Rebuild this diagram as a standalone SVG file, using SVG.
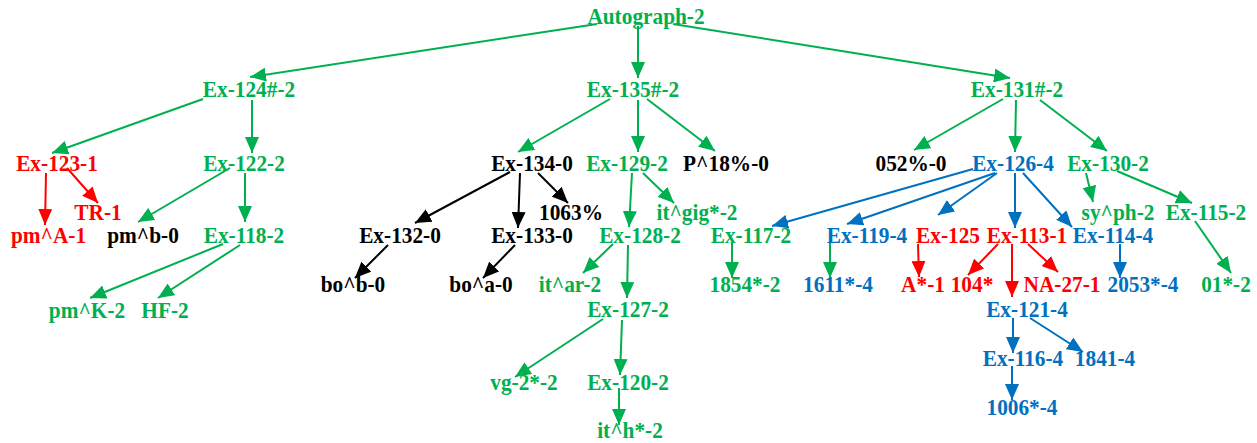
<svg xmlns="http://www.w3.org/2000/svg" width="1257" height="443" viewBox="0 0 1257 443" font-family="'Liberation Serif', 'Times New Roman', serif">
<style>
text{font-family:"Liberation Serif","Times New Roman",serif;font-weight:700;font-size:21.33px;text-anchor:middle}
.g{fill:#00B050}.r{fill:#FF0000}.b{fill:#0070C0}.k{fill:#000000}
line{stroke-width:2;fill:none}
.eg{stroke:#00B050;marker-end:url(#ag)}.er{stroke:#FF0000;marker-end:url(#ar)}.eb{stroke:#0070C0;marker-end:url(#ab)}.ek{stroke:#000000;marker-end:url(#ak)}
</style>
<defs>
<marker id="ag" markerUnits="userSpaceOnUse" markerWidth="16" markerHeight="14" refX="16" refY="7" orient="auto"><path d="M0,0L16,7L0,14z" fill="#00B050"/></marker>
<marker id="ar" markerUnits="userSpaceOnUse" markerWidth="16" markerHeight="14" refX="16" refY="7" orient="auto"><path d="M0,0L16,7L0,14z" fill="#FF0000"/></marker>
<marker id="ab" markerUnits="userSpaceOnUse" markerWidth="16" markerHeight="14" refX="16" refY="7" orient="auto"><path d="M0,0L16,7L0,14z" fill="#0070C0"/></marker>
<marker id="ak" markerUnits="userSpaceOnUse" markerWidth="16" markerHeight="14" refX="16" refY="7" orient="auto"><path d="M0,0L16,7L0,14z" fill="#000000"/></marker>
</defs>
<rect width="1257" height="443" fill="#FFFFFF"/>
<g id="connectors">
<line class="eg" x1="597" y1="24" x2="250" y2="77"/>
<line class="eg" x1="638" y1="26" x2="638" y2="78"/>
<line class="eg" x1="673" y1="24" x2="1010" y2="78"/>
<line class="eg" x1="203" y1="99" x2="52" y2="153"/>
<line class="eg" x1="252" y1="100" x2="252" y2="153"/>
<line class="eg" x1="610" y1="99" x2="518" y2="152"/>
<line class="eg" x1="638" y1="100" x2="638" y2="152"/>
<line class="eg" x1="647" y1="99" x2="715" y2="151"/>
<line class="eg" x1="1003" y1="99" x2="914" y2="150"/>
<line class="eg" x1="1016" y1="100" x2="1015" y2="152"/>
<line class="eg" x1="1040" y1="100" x2="1107" y2="151"/>
<line class="er" x1="46" y1="173" x2="45" y2="225"/>
<line class="er" x1="67" y1="168" x2="98" y2="203"/>
<line class="eg" x1="230" y1="168" x2="138" y2="222"/>
<line class="eg" x1="245" y1="173" x2="245" y2="222"/>
<line class="eg" x1="223" y1="244" x2="90" y2="298"/>
<line class="eg" x1="240" y1="245" x2="158" y2="298"/>
<line class="ek" x1="510" y1="172" x2="415" y2="223"/>
<line class="ek" x1="520" y1="173" x2="518" y2="228"/>
<line class="ek" x1="538" y1="173" x2="568" y2="203"/>
<line class="ek" x1="388" y1="245" x2="355" y2="278"/>
<line class="ek" x1="515" y1="245" x2="483" y2="278"/>
<line class="eg" x1="632" y1="173" x2="629" y2="227"/>
<line class="eg" x1="643" y1="173" x2="674" y2="203"/>
<line class="eg" x1="613" y1="244" x2="583" y2="273"/>
<line class="eg" x1="628" y1="245" x2="627" y2="298"/>
<line class="eg" x1="732" y1="243" x2="732" y2="278"/>
<line class="eg" x1="603" y1="319" x2="515" y2="377"/>
<line class="eg" x1="622" y1="320" x2="620" y2="375"/>
<line class="eg" x1="619" y1="388" x2="619" y2="425"/>
<line class="eb" x1="973" y1="169" x2="772" y2="226"/>
<line class="eb" x1="995" y1="173" x2="847" y2="224"/>
<line class="eb" x1="997" y1="173" x2="938" y2="215"/>
<line class="eb" x1="1015" y1="173" x2="1015" y2="228"/>
<line class="eb" x1="1023" y1="173" x2="1072" y2="227"/>
<line class="eg" x1="1086" y1="173" x2="1093" y2="202"/>
<line class="eg" x1="1117" y1="171" x2="1192" y2="203"/>
<line class="eg" x1="1195" y1="221" x2="1231" y2="273"/>
<line class="er" x1="918" y1="244" x2="919" y2="277"/>
<line class="er" x1="998" y1="244" x2="968" y2="275"/>
<line class="er" x1="1012" y1="244" x2="1012" y2="297"/>
<line class="er" x1="1028" y1="244" x2="1058" y2="272"/>
<line class="eb" x1="1120" y1="244" x2="1120" y2="278"/>
<line class="eg" x1="830" y1="243" x2="830" y2="278"/>
<line class="eb" x1="1013" y1="318" x2="1013" y2="353"/>
<line class="eb" x1="1030" y1="318" x2="1083" y2="352"/>
<line class="eb" x1="1012" y1="366" x2="1012" y2="400"/>
</g>
<g id="n-autograph-2" transform="translate(646,24) scale(1,1.1)"><text class="g">Autograph-2</text></g>
<g id="n-ex-124" transform="translate(249,97) scale(1,1.1)"><text class="g">Ex-124#-2</text></g>
<g id="n-ex-135" transform="translate(633,97) scale(1,1.1)"><text class="g">Ex-135#-2</text></g>
<g id="n-ex-131" transform="translate(1017,97) scale(1,1.1)"><text class="g">Ex-131#-2</text></g>
<g id="n-ex-123" transform="translate(57,171) scale(1,1.1)"><text class="r">Ex-123-1</text></g>
<g id="n-ex-122" transform="translate(244,171) scale(1,1.1)"><text class="g">Ex-122-2</text></g>
<g id="n-ex-134" transform="translate(532,171) scale(1,1.1)"><text class="k">Ex-134-0</text></g>
<g id="n-ex-129" transform="translate(627,171) scale(1,1.1)"><text class="g">Ex-129-2</text></g>
<g id="n-p18" transform="translate(726,171) scale(1,1.1)"><text class="k">P^18%-0</text></g>
<g id="n-052" transform="translate(911,171) scale(1,1.1)"><text class="k">052%-0</text></g>
<g id="n-ex-126" transform="translate(1013,171) scale(1,1.1)"><text class="b">Ex-126-4</text></g>
<g id="n-ex-130" transform="translate(1108,171) scale(1,1.1)"><text class="g">Ex-130-2</text></g>
<g id="n-tr-1" transform="translate(98,220) scale(1,1.1)"><text class="r">TR-1</text></g>
<g id="n-1063" transform="translate(571,220) scale(1,1.1)"><text class="k">1063%</text></g>
<g id="n-itgig" transform="translate(697,220) scale(1,1.1)"><text class="g">it^gig*-2</text></g>
<g id="n-syph" transform="translate(1118,220) scale(1,1.1)"><text class="g">sy^ph-2</text></g>
<g id="n-ex-115" transform="translate(1206,220) scale(1,1.1)"><text class="g">Ex-115-2</text></g>
<g id="n-pma" transform="translate(48.5,243) scale(1,1.1)"><text class="r">pm^A-1</text></g>
<g id="n-pmb" transform="translate(143,243) scale(1,1.1)"><text class="k">pm^b-0</text></g>
<g id="n-ex-118" transform="translate(244,243) scale(1,1.1)"><text class="g">Ex-118-2</text></g>
<g id="n-ex-132" transform="translate(400,243) scale(1,1.1)"><text class="k">Ex-132-0</text></g>
<g id="n-ex-133" transform="translate(532,243) scale(1,1.1)"><text class="k">Ex-133-0</text></g>
<g id="n-ex-128" transform="translate(640,243) scale(1,1.1)"><text class="g">Ex-128-2</text></g>
<g id="n-ex-117" transform="translate(751,243) scale(1,1.1)"><text class="g">Ex-117-2</text></g>
<g id="n-ex-119" transform="translate(867,243) scale(1,1.1)"><text class="b">Ex-119-4</text></g>
<g id="n-ex-125" transform="translate(948,243) scale(1,1.1)"><text class="r">Ex-125</text></g>
<g id="n-ex-113" transform="translate(1027,243) scale(1,1.1)"><text class="r">Ex-113-1</text></g>
<g id="n-ex-114" transform="translate(1113,243) scale(1,1.1)"><text class="b">Ex-114-4</text></g>
<g id="n-bob" transform="translate(353,292) scale(1,1.1)"><text class="k">bo^b-0</text></g>
<g id="n-boa" transform="translate(481,292) scale(1,1.1)"><text class="k">bo^a-0</text></g>
<g id="n-itar" transform="translate(570,292) scale(1,1.1)"><text class="g">it^ar-2</text></g>
<g id="n-1854" transform="translate(745,292) scale(1,1.1)"><text class="g">1854*-2</text></g>
<g id="n-1611" transform="translate(838,292) scale(1,1.1)"><text class="b">1611*-4</text></g>
<g id="n-a1" transform="translate(923,292) scale(1,1.1)"><text class="r">A*-1</text></g>
<g id="n-104" transform="translate(972,292) scale(1,1.1)"><text class="r">104*</text></g>
<g id="n-na27" transform="translate(1062,292) scale(1,1.1)"><text class="r">NA-27-1</text></g>
<g id="n-2053" transform="translate(1143,292) scale(1,1.1)"><text class="b">2053*-4</text></g>
<g id="n-01" transform="translate(1226,292) scale(1,1.1)"><text class="g">01*-2</text></g>
<g id="n-pmk" transform="translate(87,318) scale(1,1.1)"><text class="g">pm^K-2</text></g>
<g id="n-hf" transform="translate(165,318) scale(1,1.1)"><text class="g">HF-2</text></g>
<g id="n-ex-127" transform="translate(628,317) scale(1,1.1)"><text class="g">Ex-127-2</text></g>
<g id="n-ex-121" transform="translate(1027,317) scale(1,1.1)"><text class="b">Ex-121-4</text></g>
<g id="n-ex-116" transform="translate(1023,366) scale(1,1.1)"><text class="b">Ex-116-4</text></g>
<g id="n-1841" transform="translate(1105,366) scale(1,1.1)"><text class="b">1841-4</text></g>
<g id="n-vg2" transform="translate(524,390) scale(1,1.1)"><text class="g">vg-2*-2</text></g>
<g id="n-ex-120" transform="translate(628,390) scale(1,1.1)"><text class="g">Ex-120-2</text></g>
<g id="n-1006" transform="translate(1022,415) scale(1,1.1)"><text class="b">1006*-4</text></g>
<g id="n-ith" transform="translate(630,438) scale(1,1.1)"><text class="g">it^h*-2</text></g>
</svg>
